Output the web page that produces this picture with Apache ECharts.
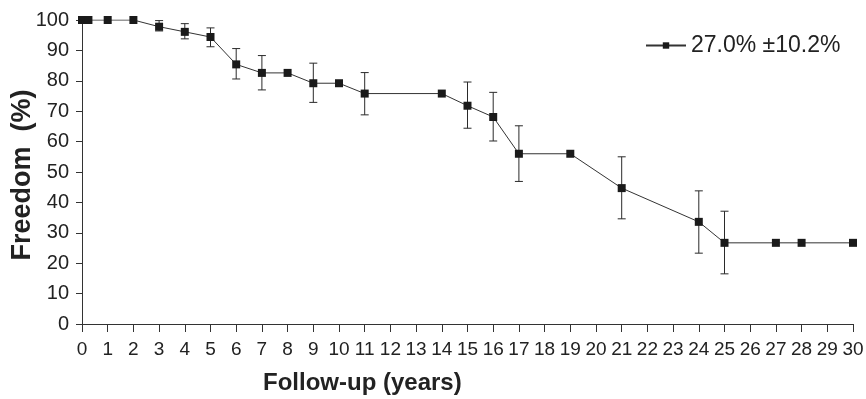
<!DOCTYPE html>
<html>
<head>
<meta charset="utf-8">
<script src="https://cdn.jsdelivr.net/npm/echarts@6/dist/echarts.min.js"></script>
<style>
  html, body {margin: 0; padding: 0; background: #fff;}
  #chart {width: 866px; height: 399px;}
</style>
</head>
<body>
<div id="chart"></div>
<script>
// follow-up years and freedom estimates (%)
const years = [0, 0.25, 1, 2, 3, 4, 5, 6, 7, 8, 9, 10, 11, 14, 15, 16, 17, 19, 21, 24, 25, 27, 28, 30];
const freedom = [100, 100, 100, 100, 97.8, 96.1, 94.4, 85.4, 82.6, 82.6, 79.2, 79.2, 75.8, 75.8, 71.8, 68.1, 56.0, 56.0, 44.7, 33.6, 26.7, 26.7, 26.7, 26.7];
// error bar limits, null where the point has no bar
const lower = [null, null, null, null, 96.4, 93.8, 91.2, 80.6, 77.0, null, 72.9, null, 68.8, null, 64.4, 60.2, 46.9, null, 34.6, 23.3, 16.5, null, null, null];
const upper = [null, null, null, null, 99.8, 98.8, 97.4, 90.6, 88.3, null, 85.8, null, 82.7, null, 79.6, 76.2, 65.2, null, 55.0, 43.8, 37.1, null, null, null];
const seriesName = '27.0% ±10.2%';

const lineData = years.map((x, i) => [x, freedom[i]]);
const barData = [];
years.forEach((x, i) => {
  if (lower[i] != null) barData.push([x, lower[i], upper[i]]);
});

const chart = echarts.init(document.getElementById('chart'));

const renderErrorBar = (params, api) => {
  const lo = api.coord([api.value(0), api.value(1)]);
  const hi = api.coord([api.value(0), api.value(2)]);
  const cap = 4;
  const style = {stroke: '#2a2a2a', lineWidth: 1};
  return {
    type: 'group',
    children: [
      {type: 'line', shape: {x1: lo[0], y1: lo[1], x2: hi[0], y2: hi[1]}, style},
      {type: 'line', shape: {x1: lo[0] - cap, y1: lo[1], x2: lo[0] + cap, y2: lo[1]}, style},
      {type: 'line', shape: {x1: hi[0] - cap, y1: hi[1], x2: hi[0] + cap, y2: hi[1]}, style}
    ]
  };
};

chart.setOption({
  animation: false,
  grid: {left: 82, right: 13, top: 20, bottom: 75, outerBoundsMode: 'none', containLabel: false},
  legend: {
    left: 640,
    top: 29,
    itemWidth: 40,
    itemHeight: 8,
    itemGap: 6,
    data: [seriesName],
    textStyle: {fontFamily: 'Liberation Sans, Arial', fontSize: 23, color: '#222'}
  },
  xAxis: {
    type: 'value',
    min: 0,
    max: 30,
    interval: 1,
    splitLine: {show: false},
    axisLine: {lineStyle: {color: '#333', width: 1}},
    axisTick: {length: 8, lineStyle: {color: '#333'}},
    axisLabel: {
      margin: 16,
      color: '#222',
      fontSize: 19,
      fontFamily: 'Liberation Sans Narrow, Arial Narrow, Liberation Sans',
      hideOverlap: false
    }
  },
  yAxis: {
    type: 'value',
    min: 0,
    max: 100,
    interval: 10,
    splitLine: {show: false},
    axisLine: {show: true, lineStyle: {color: '#333', width: 1}},
    axisTick: {show: true, length: 6, lineStyle: {color: '#333'}},
    axisLabel: {margin: 13, color: '#222', fontSize: 20, fontFamily: 'Liberation Sans, Arial'}
  },
  graphic: [
    {
      type: 'text',
      left: 263,
      top: 371,
      style: {
        text: 'Follow-up (years)',
        font: 'bold 24px "Liberation Sans", Arial',
        fill: '#222'
      }
    },
    {
      type: 'text',
      x: 23,
      y: 175,
      rotation: Math.PI / 2,
      style: {
        text: 'Freedom  (%)',
        font: 'bold 27px "Liberation Sans", Arial',
        fill: '#222',
        align: 'center',
        verticalAlign: 'middle'
      }
    }
  ],
  series: [
    {
      type: 'custom',
      renderItem: renderErrorBar,
      data: barData,
      encode: {x: 0, y: [1, 2]},
      z: 1
    },
    {
      name: seriesName,
      type: 'line',
      data: lineData,
      symbol: 'rect',
      symbolSize: 8,
      lineStyle: {color: '#333', width: 1},
      itemStyle: {color: '#1a1a1a'},
      z: 2
    }
  ]
});
</script>
</body>
</html>
